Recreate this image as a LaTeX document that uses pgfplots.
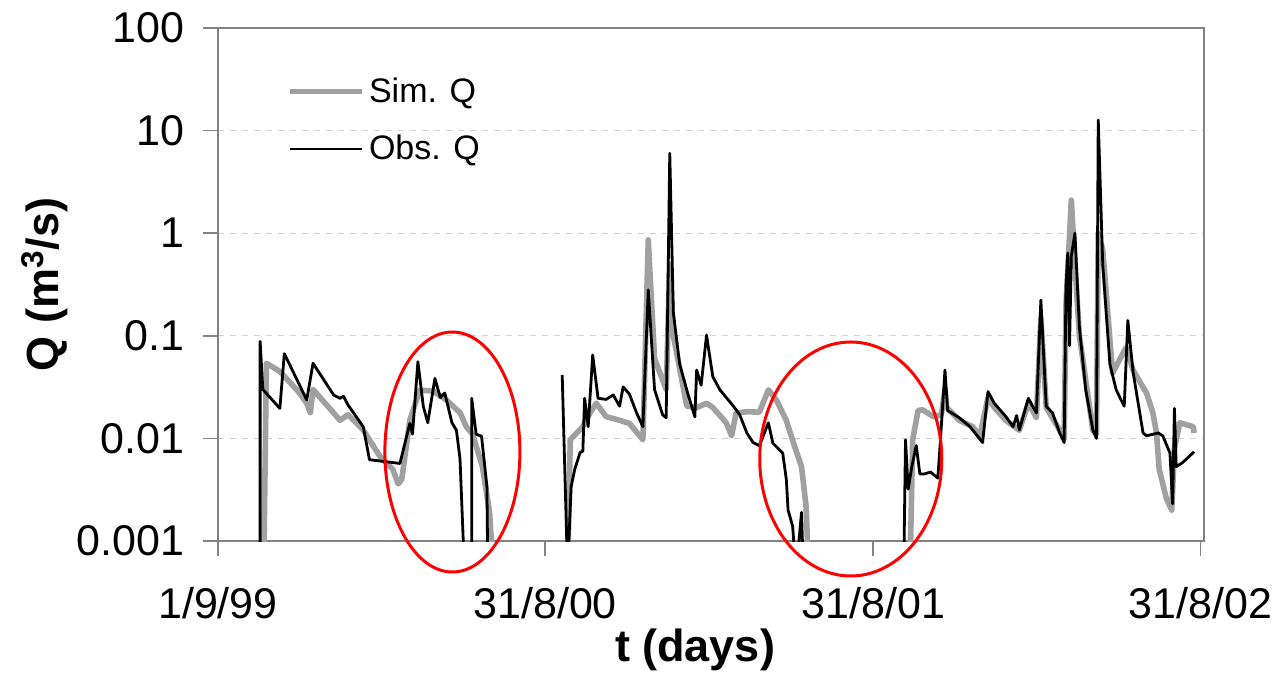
\documentclass[border=0pt]{standalone}
\usepackage{pgfplots}
\pgfplotsset{compat=1.18}
\usepackage{pgfplotstable}
\usepackage{fontspec}
\setmainfont{Liberation Sans}
\definecolor{simgray}{RGB}{160,160,160}
\definecolor{axgray}{RGB}{130,130,130}

\pgfplotstableread{
day Q
47 0.0005
47 0.088
50 0.030
69 0.0196
74 0.067
99 0.0237
106 0.054
129 0.0265
136 0.0246
140 0.0257
145 0.0212
162 0.0130
169 0.0062
203 0.0057
206 0.0073
214 0.014
217 0.011
223 0.056
229 0.0206
234 0.0142
242 0.0385
248 0.025
253 0.0277
261 0.0142
266 0.012
270 0.0063
275 0.0005
283 0.0005
283 0.0246
288 0.011
294 0.0105
300 0.0034
301 0.0005
nan nan
384 0.0415
390 0.0005
394 0.0034
398 0.005
404 0.0073
407 0.0075
409 0.0246
413 0.013
418 0.065
424 0.0246
433 0.024
441 0.0265
448 0.0206
452 0.0318
459 0.027
467 0.0177
474 0.013
480 0.28
487 0.03
496 0.017
500 0.0159
504 6.0
508 0.168
515 0.053
524 0.0276
532 0.0162
534 0.0464
539 0.033
545 0.1016
552 0.040
560 0.0297
575 0.0206
582 0.017
590 0.0113
597 0.0091
604 0.0085
614 0.0142
619 0.009
630 0.0072
634 0.0040
636 0.002
641 0.0014
645 0.0005
651 0.0019
653 0.0005
nan nan
765 0.0005
767 0.0097
770 0.0032
774 0.0053
779 0.0085
783 0.0045
788 0.0045
795 0.0047
803 0.0041
805 0.0072
811 0.0464
814 0.0187
827 0.0159
839 0.013
853 0.0091
859 0.0286
866 0.022
879 0.0163
887 0.013
891 0.0167
894 0.0121
904 0.0246
913 0.0177
918 0.223
924 0.0206
931 0.0177
939 0.0113
944 0.0091
946 0.3
948 0.64
950 0.08
952 0.6
956 1.0
961 0.12
968 0.03
976 0.0121
980 0.0100
982 12.7
987 0.5
995 0.053
1002 0.0297
1011 0.0206
1015 0.141
1021 0.0435
1032 0.0113
1036 0.0106
1049 0.0113
1054 0.0106
1062 0.0072
1065 0.0023
1067 0.0196
1069 0.0053
1076 0.0058
1089 0.0074
}\obsdata

\pgfplotstableread{
day Q
51 0.0005
54 0.054
69 0.045
91 0.0277
99 0.022
103 0.0178
106 0.03
129 0.0177
136 0.015
145 0.017
162 0.0121
181 0.0066
195 0.0050
201 0.0036
205 0.0040
214 0.015
225 0.0295
240 0.029
255 0.0236
270 0.0178
277 0.013
284 0.011
295 0.0053
303 0.0019
307 0.0005
nan nan
390 0.0005
393 0.0097
407 0.013
415 0.0177
422 0.022
433 0.0163
448 0.015
459 0.014
474 0.0097
480 0.86
487 0.06
500 0.03
504 0.5
508 0.1
523 0.0206
534 0.02
545 0.022
552 0.02
567 0.0142
573 0.0106
578 0.0177
590 0.0182
604 0.018
614 0.0297
623 0.0236
634 0.015
643 0.0085
651 0.0053
656 0.0022
659 0.0005
nan nan
772 0.0005
775 0.0097
781 0.0187
786 0.019
798 0.0163
807 0.017
811 0.03
813 0.02
827 0.015
842 0.013
850 0.0106
859 0.025
866 0.02
879 0.015
894 0.012
904 0.022
913 0.016
918 0.15
924 0.02
939 0.012
944 0.01
946 0.2
952 2.1
956 0.5
961 0.1
976 0.012
980 0.011
982 1.0
987 0.69
998 0.0435
1013 0.0768
1021 0.046
1036 0.0275
1043 0.0177
1047 0.0113
1050 0.005
1058 0.0026
1064 0.0020
1067 0.008
1073 0.0142
1088 0.013
1089 0.0113
}\simdata

\begin{document}
\begin{tikzpicture}
\useasboundingbox (-109pt,-68.5pt) rectangle (532.5pt,270.5pt);
\begin{axis}[
  at={(0,0)}, anchor=south west,
  scale only axis,
  width=493pt, height=256.5pt,
  ymode=log,
  xmin=0, xmax=1100,
  ymin=0.001, ymax=100,
  unbounded coords=jump,
  clip mode=individual,
  xtick={0,365,731,1096},
  xticklabels={1/9/99,31/8/00,31/8/01,31/8/02},
  ytick={0.001,0.01,0.1,1,10,100},
  yticklabels={0.001,0.01,0.1,1,10,100},
  yminorticks=false,
  tick pos=left,
  tick align=outside,
  major tick length=7.5pt,
  tick style={axgray, line width=0.8pt},
  axis line style={axgray, line width=0.8pt},
  ymajorgrids,
  major grid style={dashed, gray!35, line width=0.6pt},
  ticklabel style={font=\fontsize{21.5}{24}\selectfont},
  xticklabel style={yshift=-12pt},
  yticklabel style={xshift=-6pt},
  /pgf/number format/assume math mode=true,
  xlabel={\bfseries t (days)},
  ylabel={\bfseries Q (m\textsuperscript{3}/s)},
  every axis x label/.style={at={(axis description cs:0.4838,-0.2125)}, anchor=center, font=\fontsize{22.5}{26}\selectfont},
  every axis y label/.style={at={(axis description cs:-0.1755,0.5)}, rotate=90, anchor=center, font=\fontsize{22.5}{26}\selectfont},
  legend style={at={(axis description cs:0.070,0.912)}, anchor=north west, draw=none, fill=none,
    font=\fontsize{17}{20}\selectfont, row sep=11pt, inner sep=0pt, nodes={inner sep=2pt}},
  legend cell align=left,
  legend image code/.code={\draw[#1] (0pt,0pt) -- (36pt,0pt);},
]
\addplot[simgray, line width=2.8pt, line join=round] table[x=day,y=Q] {\simdata};
\addlegendentry{Sim. Q}
\addplot[black, line width=1.4pt, line join=round] table[x=day,y=Q] {\obsdata};
\addlegendentry{Obs. Q}
\draw[red, line width=1.5pt] (axis cs:261.5,0.00737) ellipse [x radius=33.75pt, y radius=60pt];
\draw[red, line width=1.5pt] (axis cs:705.9,0.0063) ellipse [x radius=45.5pt, y radius=58.5pt];
\end{axis}
\end{tikzpicture}
\end{document}
